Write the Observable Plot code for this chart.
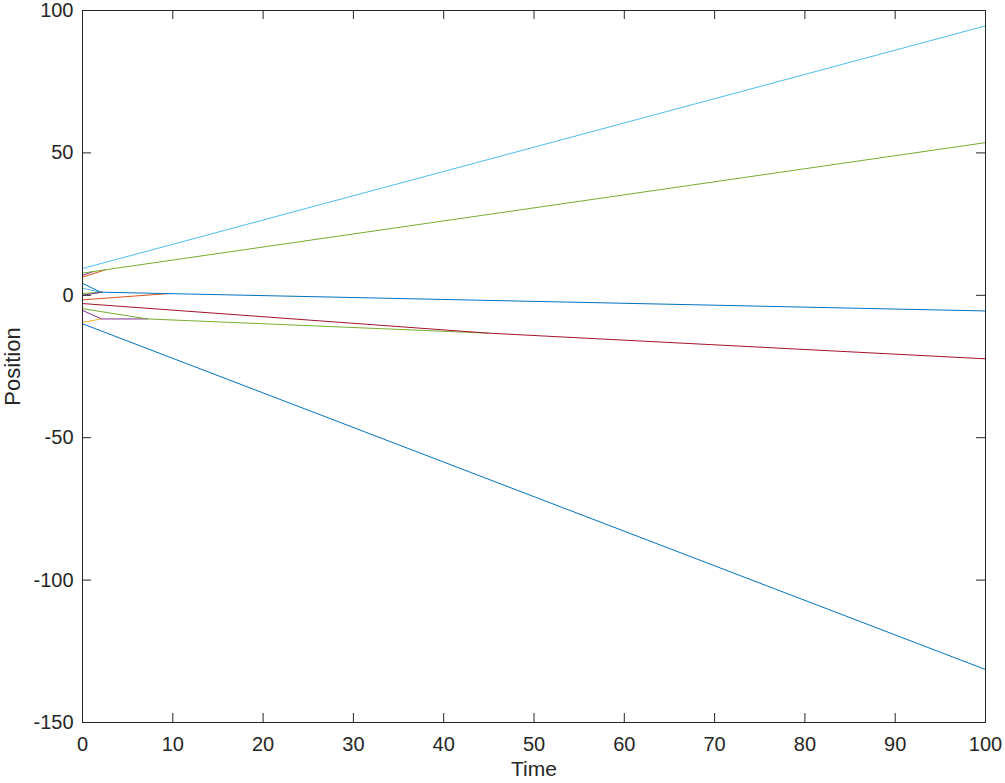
<!DOCTYPE html>
<html>
<head>
<meta charset="utf-8">
<script src="https://cdn.jsdelivr.net/npm/d3@7"></script>
<script src="https://cdn.jsdelivr.net/npm/@observablehq/plot@0.6"></script>
<style>
  html, body { margin: 0; padding: 0; background: white; }
</style>
</head>
<body>
<div id="chart"></div>
<script>
// Visible particle trajectories (time, position), in drawing order.
// Particles that merge into a cluster are listed up to their merge point.
const seriesNames = ["N", "M", "L", "K", "B", "C", "D", "E", "A", "I", "H", "G", "F", "J"];
const seriesColors = ["#D95319", "#7E2F8E", "#77AC30", "#4DBEEE", "#4DBEEE", "#77AC30", "#7E2F8E",
                      "#D95319", "#0072BD", "#EDB120", "#7E2F8E", "#77AC30", "#A2142F", "#0072BD"];
const seriesTimes = [
  [0, 2.5],
  [0, 1.2],
  [0, 100],
  [0, 100],
  [0, 2.0],
  [0, 2.1],
  [0, 2.2],
  [0, 9.5],
  [0, 2.0, 100],
  [0, 2.1],
  [0, 2.1, 7.2],
  [0, 7.2, 45],
  [0, 45, 100],
  [0, 100]
];
const seriesPositions = [
  [6.4, 8.9],
  [7.0, 8.35],
  [7.8, 53.6],
  [9.4, 94.6],
  [2.5, 1.1],
  [0.6, 1.1],
  [0.0, 1.1],
  [-1.6, 0.6],
  [4.2, 1.1, -5.5],
  [-9.5, -8.3],
  [-5.3, -8.3, -8.3],
  [-4.7, -8.3, -13.3],
  [-2.9, -13.3, -22.3],
  [-10.0, -131.4]
];
const xTicks = [0, 10, 20, 30, 40, 50, 60, 70, 80, 90, 100];
const yTicks = [-150, -100, -50, 0, 50, 100];

const ink = "#262626";
const lineMarks = seriesNames.map((name, i) => {
  const rows = seriesTimes[i].map((t, j) => ({id: name, t, p: seriesPositions[i][j]}));
  return Plot.line(rows, {x: "t", y: "p", stroke: seriesColors[i], strokeWidth: 1});
});

const chart = Plot.plot({
  width: 1005,
  height: 783,
  marginLeft: 82,
  marginRight: 20,
  marginTop: 10,
  marginBottom: 61,
  x: {domain: [0, 100]},
  y: {domain: [-150, 100]},
  style: {fontFamily: "'Liberation Sans', Arial, Helvetica, sans-serif", fontSize: "20px", color: ink, background: "white"},
  marks: [
    ...lineMarks,
    Plot.frame({stroke: ink, strokeWidth: 1}),
    Plot.tickX(xTicks, {x: d => d, insetTop: 703, stroke: ink}),
    Plot.tickX(xTicks, {x: d => d, insetBottom: 703, stroke: ink}),
    Plot.tickY(yTicks, {y: d => d, insetRight: 894, stroke: ink}),
    Plot.tickY(yTicks, {y: d => d, insetLeft: 894, stroke: ink}),
    Plot.axisX({ticks: xTicks, tickSize: 0, tickPadding: 14, label: null, fill: ink, fontSize: 20, tickFormat: d => String(d)}),
    Plot.axisY({ticks: yTicks, tickSize: 0, tickPadding: 9, label: null, fill: ink, fontSize: 20, tickFormat: d => String(d)}),
    Plot.text(["Time"], {frameAnchor: "bottom", dy: 47, lineAnchor: "middle", textAnchor: "middle", text: d => d, fill: ink, fontSize: 21}),
    Plot.text(["Position"], {frameAnchor: "left", dx: -70, rotate: -90, lineAnchor: "middle", textAnchor: "middle", text: d => d, fill: ink, fontSize: 22})
  ]
});
document.getElementById("chart").appendChild(chart);
</script>
</body>
</html>
